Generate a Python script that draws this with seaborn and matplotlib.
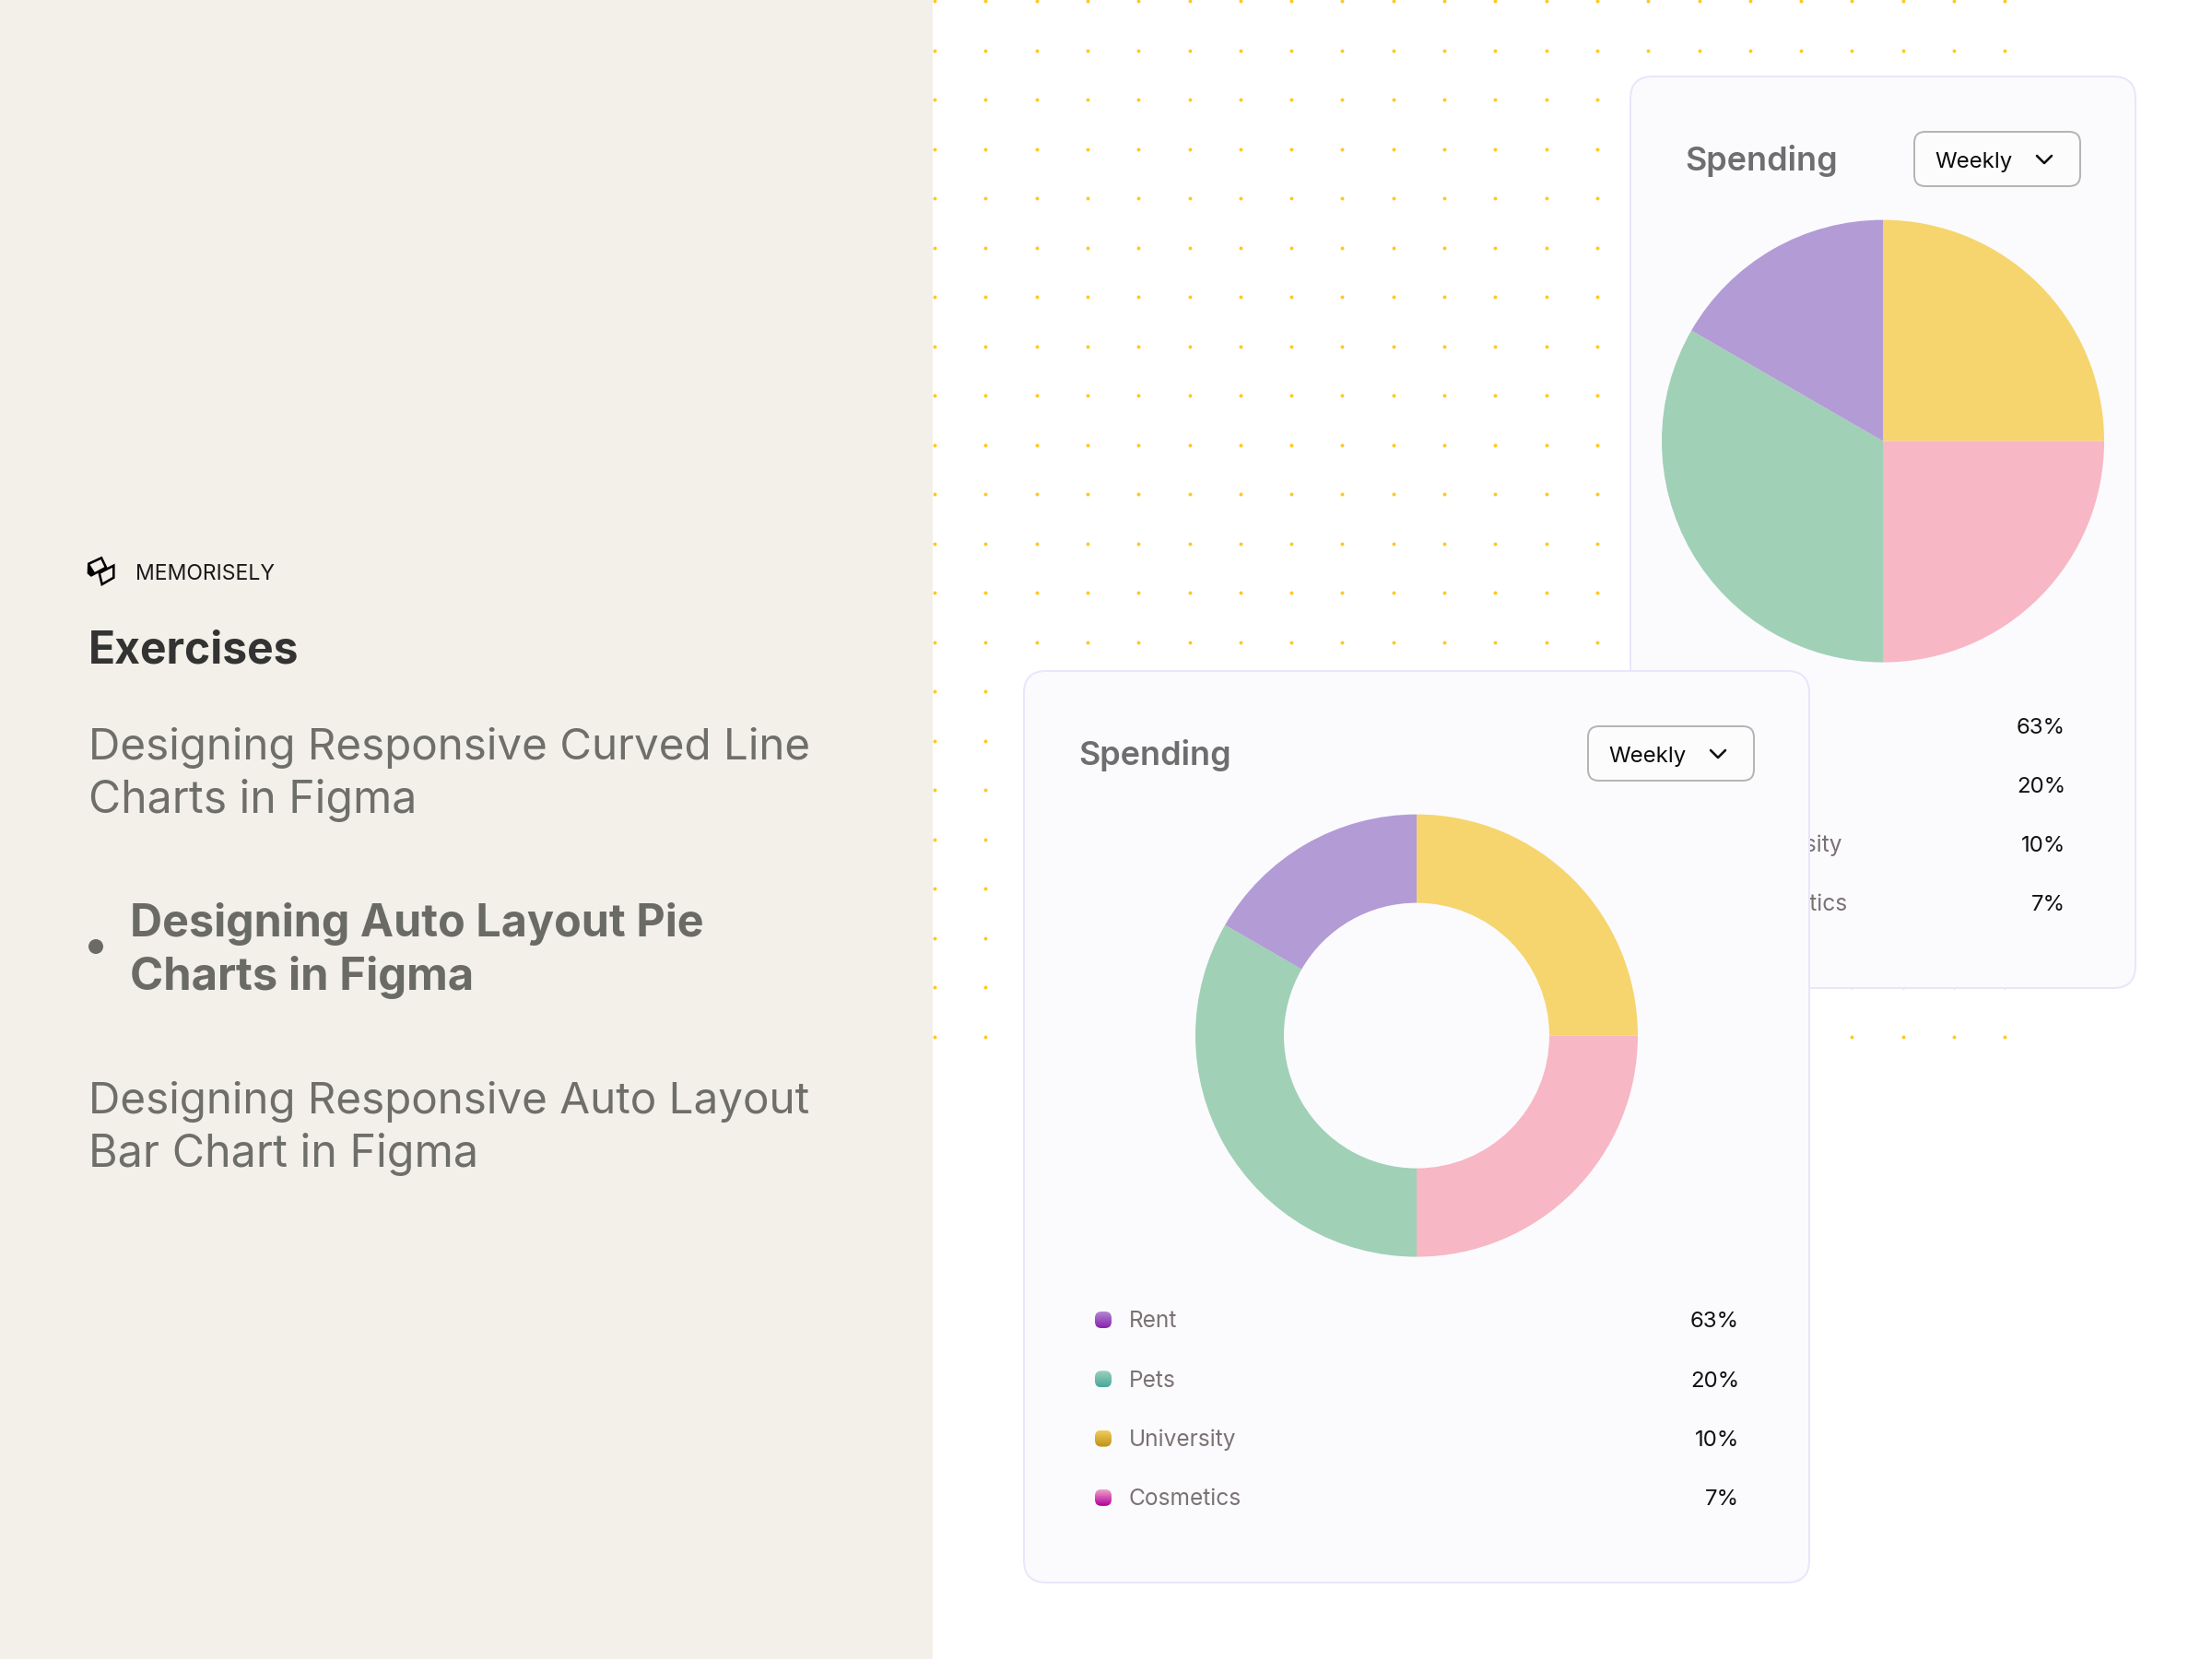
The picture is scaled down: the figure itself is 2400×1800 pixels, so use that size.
import numpy as np
import pandas as pd
import seaborn as sns
import matplotlib
matplotlib.use("Agg")
import matplotlib.pyplot as plt
from matplotlib.patches import FancyBboxPatch, Polygon, Circle
from matplotlib.colors import LinearSegmentedColormap

slice_values = [3, 3, 4, 2]
slice_colors = ["#F6D56E", "#F7B7C5", "#A0D0B6", "#B39BD6"]
legend_labels = ["Rent", "Pets", "University", "Cosmetics"]
legend_pcts = ["63%", "20%", "10%", "7%"]
swatch_tops = ["#B088D0", "#9CCFBC", "#F0CC60", "#F0A0C8"]
swatch_bots = ["#8820B0", "#48A89C", "#C09010", "#B0009C"]
exercise_items = [
    ["Designing Responsive Curved Line", "Charts in Figma"],
    ["Designing Auto Layout Pie", "Charts in Figma"],
    ["Designing Responsive Auto Layout", "Bar Chart in Figma"],
]

sns.set_theme(style="white")
plt.rcParams["font.family"] = ["Inter", "DejaVu Sans"]
PX = 0.72

fig = plt.figure(figsize=(24, 18), dpi=100, facecolor="white")
ax = fig.add_axes([0, 0, 1, 1])
ax.set_axis_off()

def T(x, y, s, px, color, weight="normal", ha="left", z=5):
    return ax.text(x, y, s, fontsize=px * PX, color=color, fontweight=weight,
                   ha=ha, va="baseline", zorder=z)

def rbox(x0, y0, x1, y1, r, fc, ec, lw, z):
    p = FancyBboxPatch((x0, y0), x1 - x0, y1 - y0, boxstyle=f"round,pad=0,rounding_size={r}",
                       fc=fc, ec=ec, lw=lw * PX, zorder=z)
    ax.add_patch(p)
    return p

# left panel
ax.add_patch(plt.Rectangle((0, 0), 1012, 1800, fc="#F3F0EA", ec="none", zorder=1))

# dot grid
gx, gy = np.meshgrid(1014 + 55.3 * np.arange(22), 1.3 + 53.5 * np.arange(22))
sns.scatterplot(x=gx.ravel(), y=gy.ravel(), s=8, color="#FFC81E", linewidth=0, ax=ax, zorder=1.5, legend=False)

def card(x0, y0, x1, y1, z):
    rbox(x0, y0, x1, y1, 24, "#FBFBFE", "#E8E6FA", 2, z)
    T(x0 + 59.5, y0 + 102, "Spending", 36, "#6E6E6E", "semibold", z=z + .1)
    dx1 = x1 - 60
    rbox(dx1 - 180, y0 + 60, dx1, y0 + 119, 12, "#FCFCFD", "#B5B5B5", 2, z + .05)
    T(dx1 - 157.5, y0 + 99, "Weekly", 24, "#0A0A0A", z=z + .1)
    cx, cy = dx1 - 39, y0 + 90
    ax.plot([cx - 8, cx, cx + 8], [cy - 4, cy + 4, cy - 4], color="#111111", lw=2.6 * PX,
            solid_capstyle="round", solid_joinstyle="round", zorder=z + .1)
    sx = x0 + 86
    for i, (lab, pct) in enumerate(zip(legend_labels, legend_pcts)):
        yc = y0 + 704 + 64.3 * i
        cmap = LinearSegmentedColormap.from_list("g", [swatch_tops[i], swatch_bots[i]])
        im = ax.imshow(np.linspace(0, 1, 32)[:, None], extent=[sx - 9, sx + 9, yc + 9, yc - 9],
                       cmap=cmap, aspect="auto", zorder=z + .1)
        clip = rbox(sx - 9, yc - 9, sx + 9, yc + 9, 7, "none", "none", 0, z + .1)
        im.set_clip_path(clip)
        T(x0 + 114, yc + 8.5, lab, 24.5, "#7A7272", z=z + .1)
        T(x1 - 76, yc + 8.5, pct, 24, "#111111", ha="right", z=z + .1)

card(1769, 83, 2317, 1072, 2)
card(1111, 728, 1963, 1717, 3)

# pies
def pie(cx, cy, r, width=None):
    a = fig.add_axes([(cx - r) / 2400, 1 - (cy + r) / 1800, 2 * r / 2400, 2 * r / 1800], zorder=5)
    wp = dict(linewidth=0)
    if width:
        wp["width"] = width
    a.pie(slice_values, colors=sns.color_palette(slice_colors), startangle=90, counterclock=False,
          radius=1, wedgeprops=wp)
    a.set_xlim(-1, 1)
    a.set_ylim(-1, 1)
    a.patch.set_alpha(0)

pie(2043, 478.6, 240)
pie(1537, 1123.6, 240, width=0.4)

# left text
T(147, 629, "MEMORISELY", 23, "#1A1A1A")
T(96, 720, "Exercises", 48, "#333333", "bold")
T(96, 824, exercise_items[0][0], 47.6, "#6F6F69")
T(96, 882, exercise_items[0][1], 48.2, "#6F6F69")
T(141, 1016, exercise_items[1][0], 48.5, "#6B6B66", "bold")
T(141, 1074, exercise_items[1][1], 49, "#6B6B66", "bold")
T(96, 1208, exercise_items[2][0], 47.6, "#6F6F69")
T(96, 1266, exercise_items[2][1], 48.4, "#6F6F69")
ax.add_patch(Circle((104, 1027), 8, fc="#6B6B66", ec="none", zorder=5))

# logo
ax.add_patch(Polygon([[96.3, 611.7], [110, 605.3], [115, 615.7], [99, 624.3], [96, 621.7]], closed=True,
                     fc="none", ec="black", lw=2.6 * PX, zorder=5))
ax.add_patch(Polygon([[96.3, 611.7], [102.3, 621], [98.3, 624.3], [96, 621.7]], closed=True,
                     fc="black", ec="black", lw=1 * PX, zorder=5))
ax.add_patch(Polygon([[107.7, 621.7], [123.3, 613.7], [123.3, 626.7], [110.7, 634]], closed=True,
                     fc="#F3F0EA", ec="black", lw=2.6 * PX, zorder=5.1))

ax.set_xlim(0, 2400)
ax.set_ylim(1800, 0)
fig.savefig("out.png", dpi=100)
